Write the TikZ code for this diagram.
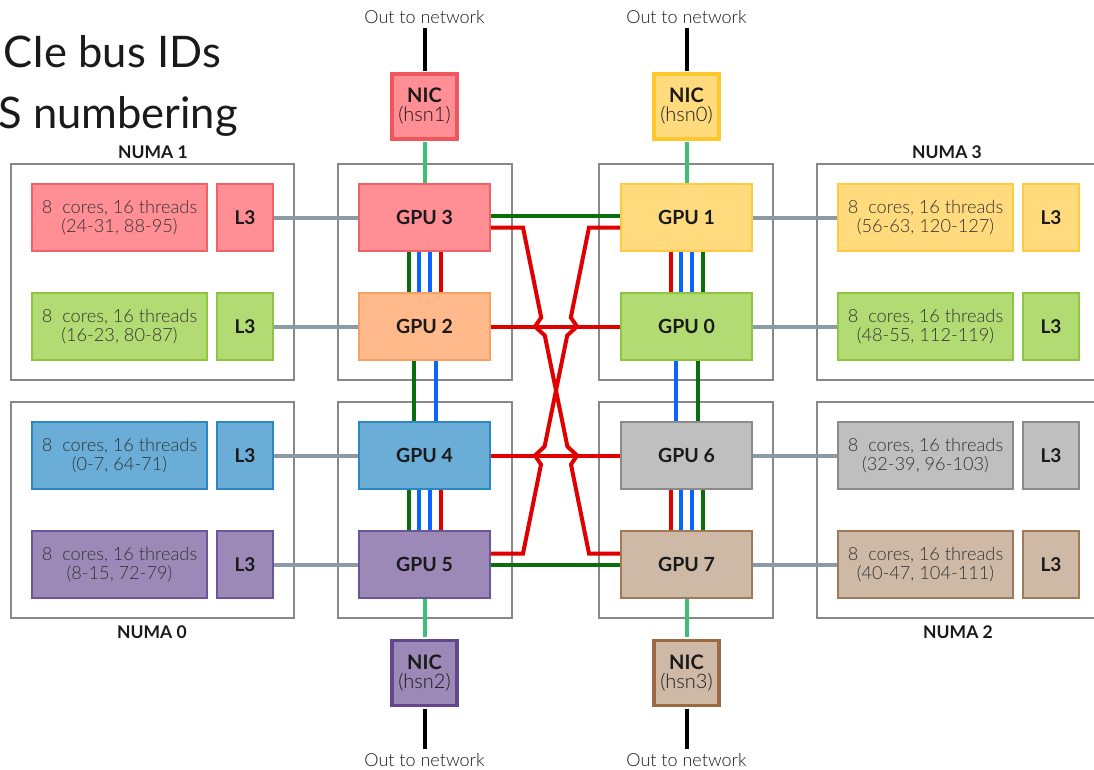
\documentclass[tikz,border=0pt]{standalone}
\usepackage{fontspec}
\setmainfont{Lato}
\newfontfamily\lightf{Lato Light}
\definecolor{pinkF}{HTML}{FF8F94}\definecolor{pinkD}{HTML}{F26166}
\definecolor{orangeF}{HTML}{FFB98A}\definecolor{orangeD}{HTML}{F7A05F}
\definecolor{greenF}{HTML}{B3DB73}\definecolor{greenD}{HTML}{8DC63F}
\definecolor{yellowF}{HTML}{FFDB7E}\definecolor{yellowD}{HTML}{FFC940}
\definecolor{blueF}{HTML}{6AAED8}\definecolor{blueD}{HTML}{2C88C2}
\definecolor{purpleF}{HTML}{9D89B8}\definecolor{purpleD}{HTML}{6C5699}
\definecolor{grayF}{HTML}{BFBFBF}\definecolor{grayD}{HTML}{8A8A8A}
\definecolor{tanF}{HTML}{CDB9A6}\definecolor{tanD}{HTML}{A07A56}
\definecolor{nicP}{HTML}{F2565D}\definecolor{nicY}{HTML}{FFC72C}
\definecolor{nicU}{HTML}{62478E}\definecolor{nicT}{HTML}{9A6B42}
\definecolor{lred}{HTML}{E00000}\definecolor{lgreen}{HTML}{0A6E0A}
\definecolor{lblue}{HTML}{0A64FF}\definecolor{lgray}{HTML}{8A9BA8}
\definecolor{lnic}{HTML}{3CC078}\definecolor{outer}{HTML}{888888}
\definecolor{txt}{HTML}{1A1A1A}\definecolor{ctxt}{HTML}{333333}
\tikzset{
  corebox/.style={draw, line width=1.6pt, minimum width=175pt, minimum height=67pt, inner sep=0pt, align=center, text=ctxt, font=\lightf\fontsize{18.2}{19.5}\selectfont},
  l3box/.style={draw, line width=1.6pt, minimum width=56pt, minimum height=67pt, inner sep=0pt, text=txt, font=\bfseries\fontsize{19}{21}\selectfont},
  gpubox/.style={draw, line width=1.6pt, minimum width=131pt, minimum height=67pt, inner sep=0pt, text=txt, font=\bfseries\fontsize{19.5}{21}\selectfont},
  nicbox/.style={draw, line width=3.2pt, minimum width=65pt, minimum height=65pt, inner sep=0pt, align=center, text=txt, font=\fontsize{20}{22}\selectfont},
  outerbox/.style={draw=outer, line width=1.8pt},
  outlbl/.style={text=txt, font=\lightf\fontsize{18}{20}\selectfont, inner sep=1pt},
  numalbl/.style={text=txt, font=\bfseries\fontsize{17.5}{19}\selectfont, inner sep=1pt},
  title/.style={text=txt, font=\fontsize{43.5}{48}\selectfont, inner sep=0pt},
  netl/.style={draw=black, line width=4pt},
  nicl/.style={draw=lnic, line width=4pt},
  grayl/.style={draw=lgray, line width=4pt},
  redl/.style={draw=lred, line width=4pt, line join=miter},
  greenl/.style={draw=lgreen, line width=4pt},
  bluel/.style={draw=lblue, line width=4pt},
}
\begin{document}
\begin{tikzpicture}[x=1pt,y=-1pt]
\useasboundingbox[fill=white] (0,0) rectangle (1094,769);
% titles
\node[title, anchor=base east] (t1) at (221,67) {CIe bus IDs};
\node[title, anchor=base east] (t2) at (238,128) {S numbering};
% outer boxes
\draw[outerbox] (11,164) rectangle (294,380);
\draw[outerbox] (11,402) rectangle (294,618);
\draw[outerbox] (338,164) rectangle (512,380);
\draw[outerbox] (338,402) rectangle (512,618);
\draw[outerbox] (599,164) rectangle (773,380);
\draw[outerbox] (599,402) rectangle (773,618);
\draw[outerbox] (1100,164) -- (817,164) -- (817,380) -- (1100,380);
\draw[outerbox] (1100,402) -- (817,402) -- (817,618) -- (1100,618);
\node[numalbl] (n1) at (153,152) {NUMA 1};
\node[numalbl] (n3) at (947,152) {NUMA 3};
\node[numalbl] (n0) at (152,632) {NUMA 0};
\node[numalbl] (n2) at (958,632) {NUMA 2};
% left cores
\node[corebox, fill=pinkF, draw=pinkD] (c1a) at (119.5,217.5) {8\ \ cores, 16 threads\\(24-31, 88-95)};
\node[l3box, fill=pinkF, draw=pinkD] (l1a) at (245,217.5) {L3};
\node[corebox, fill=greenF, draw=greenD] (c1b) at (119.5,326.5) {8\ \ cores, 16 threads\\(16-23, 80-87)};
\node[l3box, fill=greenF, draw=greenD] (l1b) at (245,326.5) {L3};
\node[corebox, fill=blueF, draw=blueD] (c0a) at (119.5,455.5) {8\ \ cores, 16 threads\\(0-7, 64-71)};
\node[l3box, fill=blueF, draw=blueD] (l0a) at (245,455.5) {L3};
\node[corebox, fill=purpleF, draw=purpleD] (c0b) at (119.5,564.5) {8\ \ cores, 16 threads\\(8-15, 72-79)};
\node[l3box, fill=purpleF, draw=purpleD] (l0b) at (245,564.5) {L3};
% right cores
\node[corebox, fill=yellowF, draw=yellowD] (c3a) at (925.5,217.5) {8\ \ cores, 16 threads\\(56-63, 120-127)};
\node[l3box, fill=yellowF, draw=yellowD] (l3a) at (1051,217.5) {L3};
\node[corebox, fill=greenF, draw=greenD] (c3b) at (925.5,326.5) {8\ \ cores, 16 threads\\(48-55, 112-119)};
\node[l3box, fill=greenF, draw=greenD] (l3b) at (1051,326.5) {L3};
\node[corebox, fill=grayF, draw=grayD] (c2a) at (925.5,455.5) {8\ \ cores, 16 threads\\(32-39, 96-103)};
\node[l3box, fill=grayF, draw=grayD] (l2a) at (1051,455.5) {L3};
\node[corebox, fill=tanF, draw=tanD] (c2b) at (925.5,564.5) {8\ \ cores, 16 threads\\(40-47, 104-111)};
\node[l3box, fill=tanF, draw=tanD] (l2b) at (1051,564.5) {L3};
% GPUs
\node[gpubox, fill=pinkF, draw=pinkD] (g3) at (424.5,217.5) {GPU 3};
\node[gpubox, fill=orangeF, draw=orangeD] (g2) at (424.5,326.5) {GPU 2};
\node[gpubox, fill=blueF, draw=blueD] (g4) at (424.5,455.5) {GPU 4};
\node[gpubox, fill=purpleF, draw=purpleD] (g5) at (424.5,564.5) {GPU 5};
\node[gpubox, fill=yellowF, draw=yellowD] (g1) at (686.5,217.5) {GPU 1};
\node[gpubox, fill=greenF, draw=greenD] (g0) at (686.5,326.5) {GPU 0};
\node[gpubox, fill=grayF, draw=grayD] (g6) at (686.5,455.5) {GPU 6};
\node[gpubox, fill=tanF, draw=tanD] (g7) at (686.5,564.5) {GPU 7};
% NICs
\node[nicbox, fill=pinkF, draw=nicP] (nic1) at (424.5,106.5) {\textbf{NIC}\\[-3pt]{\lightf (hsn1)}};
\node[nicbox, fill=yellowF, draw=nicY] (nic0) at (686.5,106.5) {\textbf{NIC}\\[-3pt]{\lightf (hsn0)}};
\node[nicbox, fill=purpleF, draw=nicU] (nic2) at (424.5,673) {\textbf{NIC}\\[-3pt]{\lightf (hsn2)}};
\node[nicbox, fill=tanF, draw=nicT] (nic3) at (686.5,673) {\textbf{NIC}\\[-3pt]{\lightf (hsn3)}};
% out to network
\node[outlbl] (o1) at (424.5,17) {Out to network};
\node[outlbl] (o0) at (686.5,17) {Out to network};
\node[outlbl] (o2) at (424.5,760) {Out to network};
\node[outlbl] (o3) at (686.5,760) {Out to network};
\draw[netl] ([yshift=1.6pt]nic1.north) -- ([yshift=-3pt]nic1.north |- o1.south);
\draw[netl] ([yshift=1.6pt]nic0.north) -- ([yshift=-3pt]nic0.north |- o0.south);
\draw[netl] ([yshift=-1.6pt]nic2.south) -- ([yshift=3pt]nic2.south |- o2.north);
\draw[netl] ([yshift=-1.6pt]nic3.south) -- ([yshift=3pt]nic3.south |- o3.north);
% NIC to GPU
\draw[nicl] ([yshift=-1.6pt]nic1.south) -- (g3.north);
\draw[nicl] ([yshift=-1.6pt]nic0.south) -- (g1.north);
\draw[nicl] ([yshift=1.6pt]nic2.north) -- (g5.south);
\draw[nicl] ([yshift=1.6pt]nic3.north) -- (g7.south);
% L3 to GPU
\draw[grayl] (l1a.east) -- (g3.west);
\draw[grayl] (l1b.east) -- (g2.west);
\draw[grayl] (l0a.east) -- (g4.west);
\draw[grayl] (l0b.east) -- (g5.west);
\draw[grayl] (g1.east) -- (c3a.west);
\draw[grayl] (g0.east) -- (c3b.west);
\draw[grayl] (g6.east) -- (c2a.west);
\draw[grayl] (g7.east) -- (c2b.west);
% vertical links left
\foreach \a/\b in {g3/g2, g4/g5}{
  \draw[greenl] ([xshift=-16pt]\a.south) -- ([xshift=-16pt]\b.north);
  \draw[bluel] ([xshift=-5.5pt]\a.south) -- ([xshift=-5.5pt]\b.north);
  \draw[bluel] ([xshift=5.5pt]\a.south) -- ([xshift=5.5pt]\b.north);
  \draw[redl] ([xshift=16pt]\a.south) -- ([xshift=16pt]\b.north);
}
\draw[greenl] ([xshift=-11pt]g2.south) -- ([xshift=-11pt]g4.north);
\draw[bluel] ([xshift=11pt]g2.south) -- ([xshift=11pt]g4.north);
% vertical links right
\foreach \a/\b in {g1/g0, g6/g7}{
  \draw[redl] ([xshift=-16pt]\a.south) -- ([xshift=-16pt]\b.north);
  \draw[bluel] ([xshift=-5.5pt]\a.south) -- ([xshift=-5.5pt]\b.north);
  \draw[bluel] ([xshift=5.5pt]\a.south) -- ([xshift=5.5pt]\b.north);
  \draw[greenl] ([xshift=16pt]\a.south) -- ([xshift=16pt]\b.north);
}
\draw[bluel] ([xshift=-11pt]g0.south) -- ([xshift=-11pt]g6.north);
\draw[greenl] ([xshift=11pt]g0.south) -- ([xshift=11pt]g6.north);
% horizontal links
\draw[greenl] ([yshift=1.5pt]g3.east) -- ([yshift=1.5pt]g1.west);
\draw[redl] (g2.east) -- (g0.west);
\draw[redl] (g4.east) -- (g6.west);
\draw[greenl] (g5.east) -- (g7.west);
% crossing red links
\draw[redl] ([yshift=-10pt]g3.east) -- (523,227.5) -- (541.2,317.5) -- (535,326.5) -- (544.8,335.5)
  -- (567.4,446.5) -- (577,455.5) -- (571.0,464.5) -- (589,553.5) -- ([yshift=11pt]g7.west);
\draw[redl] ([yshift=-10pt]g1.west) -- (589,227.5) -- (570.8,317.5) -- (577,326.5) -- (567.2,335.5)
  -- (544.6,446.5) -- (535,455.5) -- (541.0,464.5) -- (523,553.5) -- ([yshift=11pt]g5.east);
\end{tikzpicture}
\end{document}
